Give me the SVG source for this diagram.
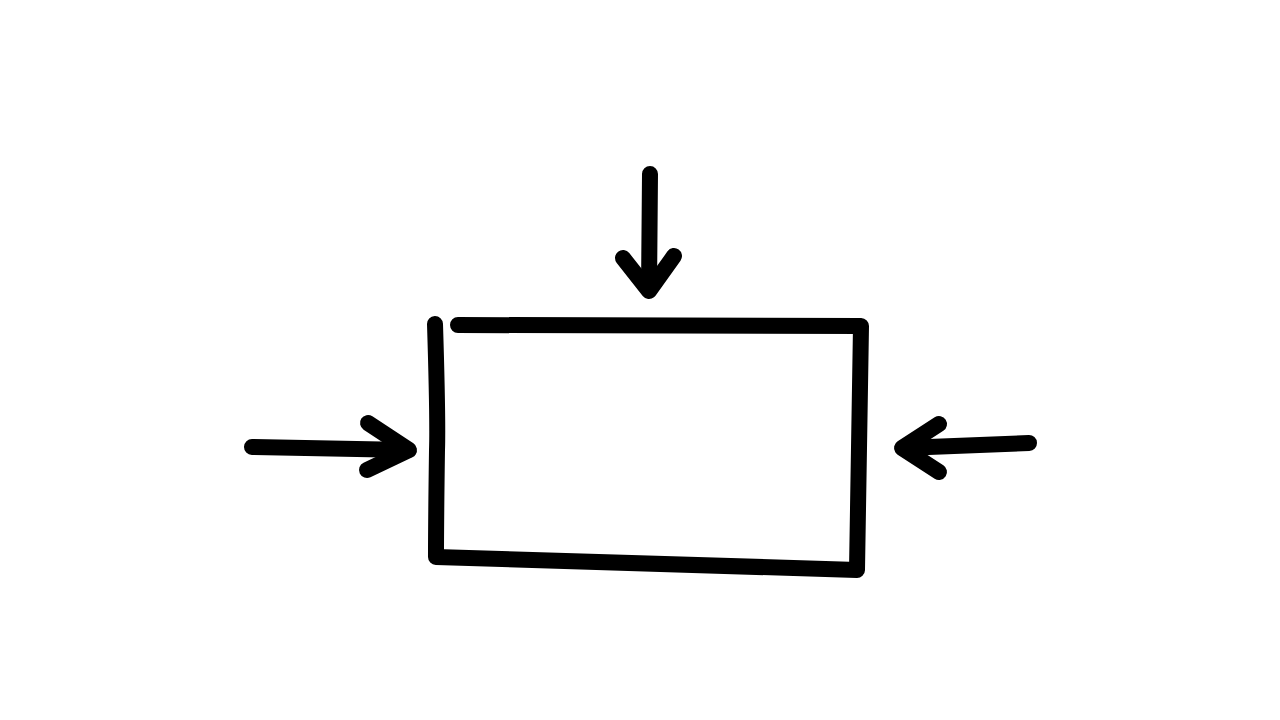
<svg xmlns="http://www.w3.org/2000/svg" width="1280" height="720" viewBox="0 0 1280 720">
<style>
.s{fill:none;stroke:#000;stroke-width:16;stroke-linecap:round;stroke-linejoin:round}
</style>
<rect width="1280" height="720" fill="#fff"/>
<g id="box">
<path class="s" d="M435,324 Q438,420 437,450 Q436,520 436,557 L857,570 L861,326 L458,325"/>
</g>
<g id="connectors">
<g id="arrow-top">
<path class="s" d="M650,174 L649,290"/>
<path class="s" d="M623,258 L649,291 L674,256"/>
</g>
<g id="arrow-left">
<path class="s" d="M252,447 L408,450"/>
<path class="s" d="M368,423 L409,450 L367,470"/>
</g>
<g id="arrow-right">
<path class="s" d="M1029,443 L903,448"/>
<path class="s" d="M939,424 L902,448 L939,472"/>
</g>
</g>
</svg>
